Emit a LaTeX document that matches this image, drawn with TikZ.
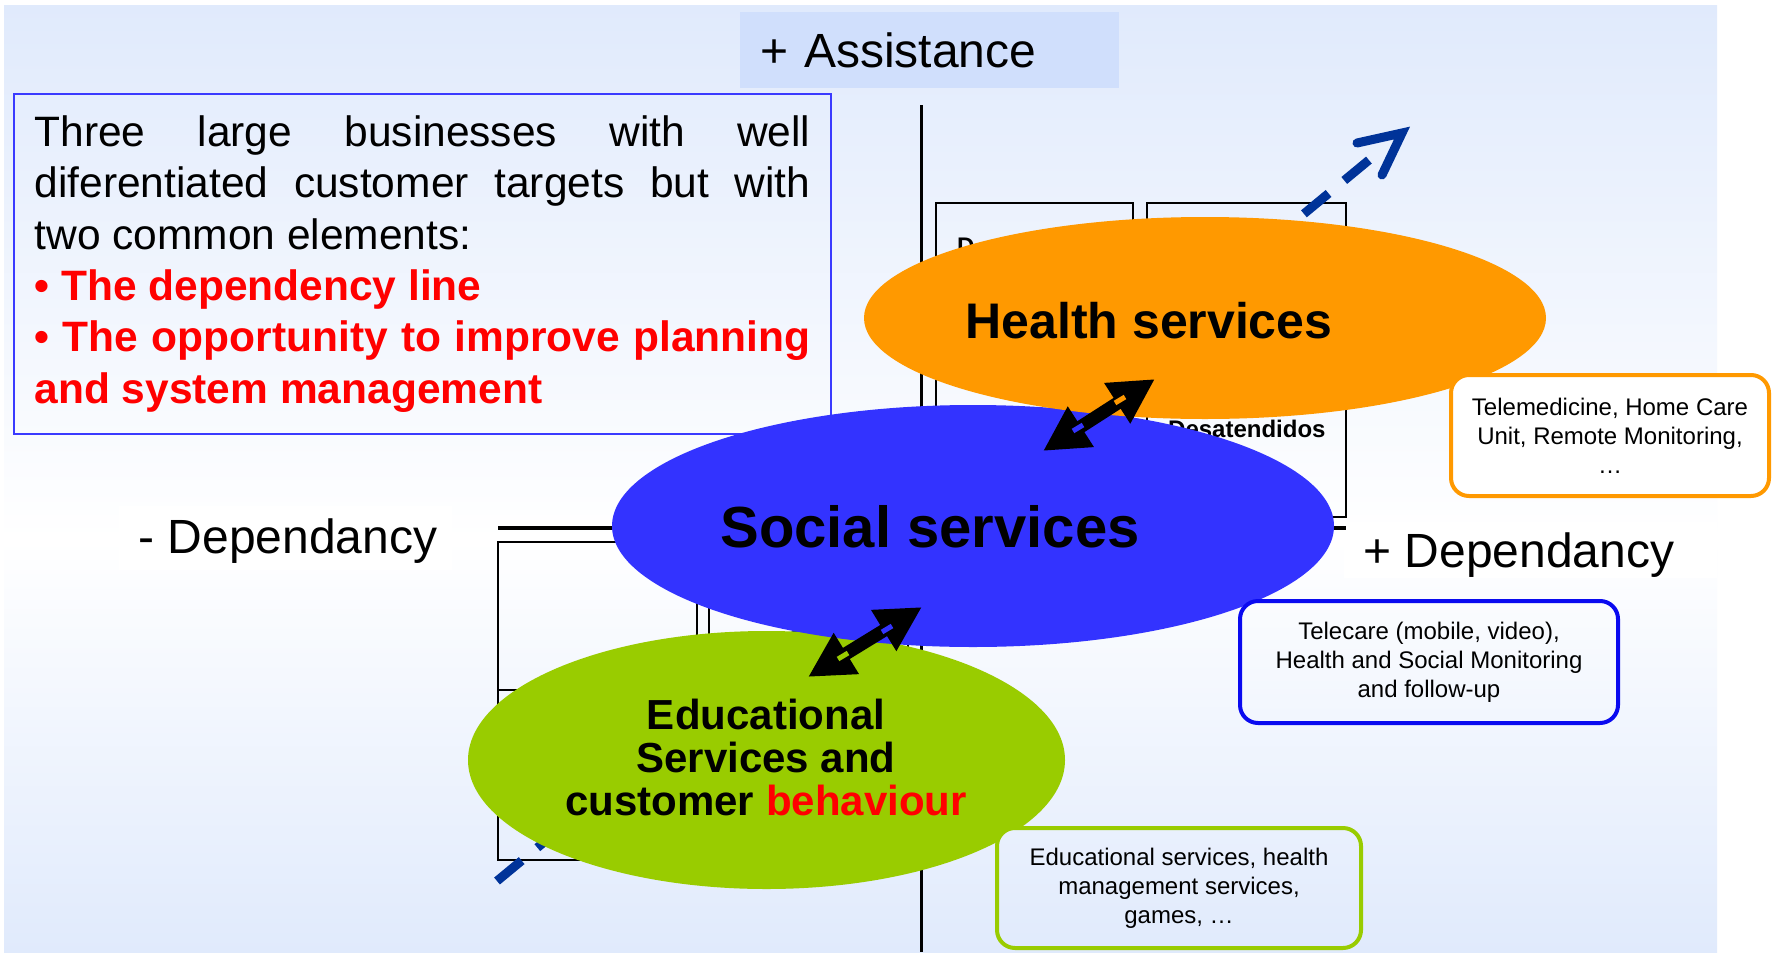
\documentclass[tikz,border=0pt]{standalone}
\usepackage{fontspec}
\setmainfont{Liberation Sans}
\usetikzlibrary{shapes.geometric,arrows.meta}
\definecolor{panelblue}{HTML}{E0EAFC}
\definecolor{assistfill}{HTML}{D0DFFC}
\definecolor{boxblue}{HTML}{3A3AFF}
\definecolor{hsorange}{HTML}{FF9900}
\definecolor{ssblue}{HTML}{3333FF}
\definecolor{esgreen}{HTML}{99CC00}
\definecolor{dashblue}{HTML}{003399}
\definecolor{telblue}{HTML}{0A0AF0}
\definecolor{hired}{HTML}{FF0000}
\newcommand{\fsz}[2]{\fontsize{#1}{#2}\selectfont}
\begin{document}
\begin{tikzpicture}[x=1pt,y=-1pt,
  gridbox/.style={draw=black, line width=2.5pt},
  blob/.style={ellipse, inner sep=0pt, draw=none},
  bigtxt/.style={font=\bfseries\fsz{50}{60}, inner sep=0pt},
  axislabel/.style={font=\fsz{48}{58}, inner sep=0pt, anchor=base},
  note/.style={rounded corners=18pt, line width=4pt, align=center, font=\fsz{24}{29}, inner sep=0pt},
  twoway/.style={line width=13pt, {Triangle[length=45pt,width=45pt]}-{Triangle[length=45pt,width=45pt]}},
  insert/.style={line width=5pt},
  dashline/.style={dashblue, line width=9pt, dash pattern=on 32pt off 20.35pt},
  barb/.style={dashblue, line width=9pt, line cap=round, line join=miter},
]
\useasboundingbox (0,0) rectangle (1777,953);
\fill[white] (0,0) rectangle (1777,953);
% background panel
\shade[top color=panelblue, bottom color=white] (4,5) rectangle (1717,540);
\shade[top color=white, bottom color=panelblue] (4,540) rectangle (1717,952);
\fill[white] (119,506) rectangle (452,570);
\fill[white] (1344,522) rectangle (1717,578);

% assistance header
\node[fill=assistfill, minimum width=379pt, minimum height=76pt, text width=339pt,
      inner xsep=20pt, inner ysep=0pt, align=left, font=\fsz{48}{58}] (assist) at (929.5,50) {+ Assistance};

% axes
\coordinate (vtop) at (921,105);
\coordinate (vbot) at (921,952);
\coordinate (hleft) at (498,528);
\coordinate (hright) at (1346,528);
\draw[line width=3pt] (vtop) -- (vbot);
\draw[line width=3.5pt] (hleft) -- (hright);

% grid boxes
\draw[gridbox] (936,203) rectangle (1133,517);
\draw[gridbox] (1147,203) rectangle (1346,517);
\draw[gridbox] (498,542) rectangle (697,690);
\draw[gridbox] (709,542) rectangle (908,690);
\draw[gridbox] (498,690) rectangle (697,860);
\draw[gridbox] (709,690) rectangle (908,860);
\node[font=\bfseries\fsz{24}{29}, anchor=base west, inner sep=0pt] (dtxt) at (957,254) {D};
\node[font=\bfseries\fsz{24}{29}, anchor=base west, inner sep=0pt] (desat) at (1168,437) {Desatendidos};

% intro text box
\node[draw=boxblue, line width=2pt, text width=776pt, inner xsep=20.5pt, inner ysep=0pt,
      minimum height=340pt, align=justify, font=\fsz{42.5}{51.3}] (intro) at (422.5,264)
 {\parindent=0pt\relax Three large businesses with well\linebreak diferentiated customer targets but with\linebreak two common elements:\par
  {\color{hired}\bfseries • The dependency line\par}
  {\color{hired}\bfseries • The opportunity to improve planning\linebreak and system management\par}};

% dependency line (dashed arrow)
\coordinate (dstart) at (497,881);
\coordinate (dend) at (1369,160);
\coordinate (dtip) at (1402,133);
\coordinate (barbA) at (1357,143);
\coordinate (barbB) at (1382,175);
\draw[dashline] (dstart) -- (dend);
\draw[barb] (barbA) -- (dtip) -- (barbB);

% ellipses
\node[blob, fill=esgreen, minimum width=597pt, minimum height=258pt] (edu) at (766.5,760) {};
\node[blob, fill=ssblue, minimum width=722pt, minimum height=242pt] (social) at (973,526) {};
\node[blob, fill=hsorange, minimum width=682pt, minimum height=202pt] (health) at (1205,318) {};

\node[bigtxt] (healthtxt) at (1149,321) {Health services};
\node[bigtxt, font=\bfseries\fsz{58}{70}] (socialtxt) at (930,527) {Social services};
\node[inner sep=0pt, align=center, font=\bfseries\fsz{42}{43}] (edutxt) at (766,757)
  {Educational\\Services and\\customer \textcolor{hired}{behaviour}};

% two-way arrows
\coordinate (hsTip) at (1155,379);
\coordinate (ssTipH) at (1043,451);
\coordinate (ssTipE) at (922,607);
\coordinate (esTip) at (808,677);
\draw[twoway] (ssTipH) -- (hsTip);
\draw[twoway] (esTip) -- (ssTipE);
\draw[insert, hsorange] (1115,403) -- (1125,397);
\draw[insert, ssblue] (1073,431) -- (1083,425);
\draw[insert, ssblue] (882,632) -- (892,626);
\draw[insert, esgreen] (838,659) -- (848,653);

% notes
\node[note, draw=hsorange, fill=white, minimum width=318pt, minimum height=121pt] (telemed) at (1610,435.5)
  {Telemedicine, Home Care\\Unit, Remote Monitoring,\\…};
\node[note, draw=telblue, top color=panelblue!15!white, bottom color=panelblue!44!white,
      minimum width=378pt, minimum height=122pt] (telecare) at (1429,662)
  {Telecare (mobile, video),\\Health and Social Monitoring\\and follow-up};
\node[note, draw=esgreen, top color=panelblue!70!white, bottom color=panelblue!99!white,
      minimum width=364pt, minimum height=120pt] (edunote) at (1179,888)
  {Educational services, health\\management services,\\games, …};

% axis labels
\node[axislabel] (minusdep) at (288,553) {- Dependancy};
\node[axislabel] (plusdep) at (1519,567) {+ Dependancy};
\end{tikzpicture}
\end{document}
